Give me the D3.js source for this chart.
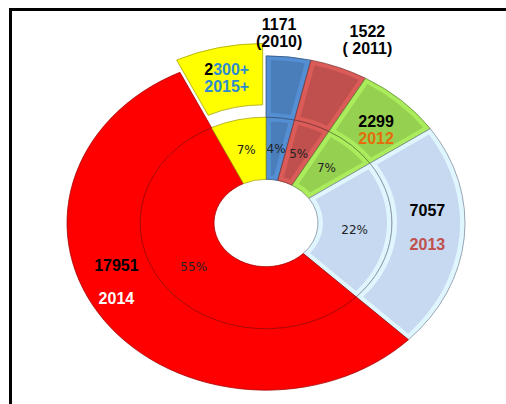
<!DOCTYPE html>
<html>
<head>
<meta charset="utf-8">
<script src="https://cdn.jsdelivr.net/npm/d3@7"></script>
<style>
  html, body { margin: 0; padding: 0; background: #fff; }
  svg { display: block; }
  .val { font-family: "Liberation Sans", Arial, sans-serif; font-weight: bold; font-size: 16px; }
  .pct { font-family: "DejaVu Sans", Verdana, sans-serif; font-size: 12px; fill: #222; }
</style>
</head>
<body>
<div id="chart"></div>
<script>
// data
var years = ["2010", "2011", "2012", "2013", "2014", "2015+"];
var values = [1171, 1522, 2299, 7057, 17951, 2300];
var percents = [4, 5, 7, 22, 55, 7];
var valueLabels = ["1171", "1522", "2299", "7057", "17951", "2300+"];
var yearLabels = ["(2010)", "( 2011)", "2012", "2013", "2014", "2015+"];

var width = 506, height = 404;
var cx = 266, cy = 223, ky = 0.84;   // tilted doughnut: y squashed
var holeR = 52, midR = 126, outerR = 199;
var explode = 15;

var fills = ["#4a7ebb", "#c0504d", "#96d050", "#c6d9f1", "#ff0000", "#ffff00"];
var yearColors = ["#000", "#000", "#e46c0a", "#c0504d", "#ffffff", "#2e8bd0"];

// label layout: outside or inside the outer ring, small nudges, gap between lines
var labelPos = {
  "2010": {r: 230, dx: -13, dy: 2, gap: 17},
  "2011": {r: 230, dx: 17, dy: -3, gap: 17},
  "2012": {r: 162, dx: 0, dy: 7, gap: 17},
  "2013": {r: 162, dx: 0, dy: -7, gap: 34},
  "2014": {r: 162, dx: -18, dy: -20, gap: 33},
  "2015+": {r: 162 + explode, dx: 0, dy: 0, gap: 17}
};

var svg = d3.select("#chart").append("svg")
  .attr("width", width)
  .attr("height", height);

// frame
svg.append("path")
  .attr("d", "M10.5," + height + "V9.5H" + width)
  .attr("fill", "none")
  .attr("stroke", "#000")
  .attr("stroke-width", 3);

var pie = d3.pie().sort(null).value(function (d) { return d; });
var arcs = pie(values);

var g = svg.append("g")
  .attr("transform", "translate(" + cx + "," + cy + ") scale(1," + ky + ")");

function offsetOf(d, i) {
  if (years[i] !== "2015+") return [0, 0];
  var a = (d.startAngle + d.endAngle) / 2;
  return [Math.sin(a) * explode, -Math.cos(a) * explode];
}

function drawRing(r0, r1, exploded) {
  var band = d3.arc().innerRadius(r0).outerRadius(r1);
  var face = d3.arc().innerRadius(r0 + 5).outerRadius(r1 - 5)
    .padRadius(100).padAngle(0.1);

  var ring = g.append("g")
    .selectAll("g")
    .data(arcs)
    .enter().append("g")
    .attr("transform", function (d, i) {
      var o = exploded ? offsetOf(d, i) : [0, 0];
      return "translate(" + o[0] + "," + o[1] + ")";
    });

  // bevel edge, lighter than the face
  ring.append("path")
    .attr("d", band)
    .attr("fill", function (d, i) { return d3.color(fills[i]).brighter(0.35); })
    .attr("stroke", function (d, i) { return d3.color(fills[i]).darker(1.3); })
    .attr("stroke-opacity", 0.75)
    .attr("vector-effect", "non-scaling-stroke")
    .attr("stroke-width", 1);

  ring.append("path")
    .attr("d", face)
    .attr("fill", function (d, i) { return fills[i]; });
}

drawRing(holeR, midR, false);
drawRing(midR, outerR, true);

// percent labels on the inner ring
var pctArc = d3.arc().innerRadius((holeR + midR) / 2).outerRadius((holeR + midR) / 2);
svg.append("g").selectAll("text")
  .data(arcs)
  .enter().append("text")
  .attr("class", "pct")
  .attr("text-anchor", "middle")
  .attr("dy", "0.35em")
  .attr("x", function (d) { return cx + pctArc.centroid(d)[0]; })
  .attr("y", function (d) { return cy + pctArc.centroid(d)[1] * ky; })
  .text(function (d, i) { return percents[i] + "%"; });

// value / year labels on the outer ring
svg.append("g").selectAll("text")
  .data(arcs)
  .enter().append("text")
  .attr("class", "val")
  .attr("text-anchor", "middle")
  .each(function (d, i) {
    var p = labelPos[years[i]];
    var c = d3.arc().innerRadius(p.r).outerRadius(p.r).centroid(d);
    var x = cx + c[0] + p.dx;
    var y = cy + c[1] * ky + p.dy;
    var t = d3.select(this).attr("x", x).attr("y", y - p.gap / 2).attr("dy", "0.35em");
    var v = valueLabels[i];
    if (years[i] === "2015+") {
      t.append("tspan").attr("fill", "#000").text(v.slice(0, 1));
      t.append("tspan").attr("fill", yearColors[i]).text(v.slice(1));
    } else {
      t.append("tspan").attr("fill", "#000").text(v);
    }
    t.append("tspan")
      .attr("x", x)
      .attr("dy", p.gap)
      .attr("fill", yearColors[i])
      .text(yearLabels[i]);
  });
</script>
</body>
</html>
